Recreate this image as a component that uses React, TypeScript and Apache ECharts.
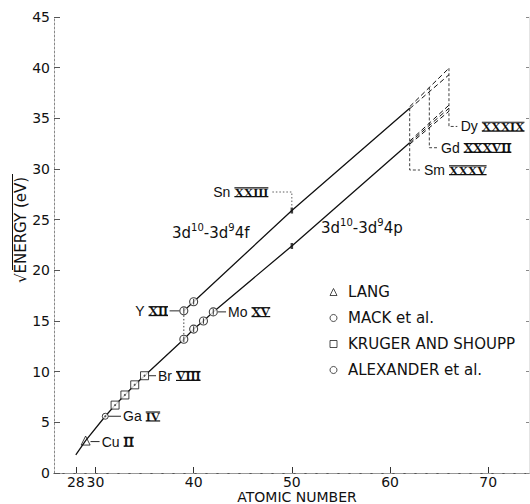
import React, { useEffect, useRef } from "react";
import * as echarts from "echarts";

// ---- data (atomic number Z, sqrt(energy) in sqrt(eV)) ----
const LOWER_4P_Z = [28, 29, 31, 32, 33, 34, 35, 39, 40, 41, 42, 50, 62];
const LOWER_4P_V = [1.8, 3.2, 5.6, 6.7, 7.7, 8.7, 9.6, 13.2, 14.2, 15.0, 15.9, 22.4, 32.6];
const UPPER_4F_Z = [39, 40, 50, 62];
const UPPER_4F_V = [16.0, 16.9, 25.9, 36.0];
// extrapolated (dashed) segments, Z 62 -> 66
const EXTRAP_Z = [62, 66];
const UPPER_EXT_A = [36.15, 39.95];
const UPPER_EXT_B = [35.95, 39.3];
const LOWER_EXT_C = [32.75, 36.3];
const LOWER_EXT_D = [32.6, 36.0];
const LOWER_EXT_E = [32.45, 35.7];
// measurements
const LANG_Z = [29];
const LANG_V = [3.2];
const MACK_Z = [31];
const MACK_V = [5.6];
const KRUGER_Z = [32, 33, 34, 35];
const KRUGER_V = [6.7, 7.7, 8.7, 9.6];
const ALEX_Z = [39, 40, 41, 42, 39, 40];
const ALEX_V = [13.2, 14.2, 15.0, 15.9, 16.0, 16.9];
const SN_Z = [50, 50];
const SN_V = [22.4, 25.9];
// axes
const X_TICKS = [28, 30, 40, 50, 60, 70];
const Y_MIN = 0;
const Y_MAX = 45;
const Y_STEP = 5;
const LEGEND_NAMES = ["LANG", "MACK et al.", "KRUGER AND SHOUPP", "ALEXANDER et al."];

const pairs = (zs: number[], vs: number[]) => zs.map((z, i) => [z, vs[i]]);

const INK = "#111";
const NAME_FONT = '14px "Liberation Sans"';
const NUM_FONT = 'bold 13px "Liberation Serif"';

const CIRCLE_BAR =
  "path://M0,-10 A10,10 0 1 1 0,10 A10,10 0 1 1 0,-10 Z M0,-7 L0,7";
const SQUARE_DOT =
  "path://M-10,-10 L10,-10 L10,10 L-10,10 Z M-1.5,0 A1.5,1.5 0 1 1 1.5,0 A1.5,1.5 0 1 1 -1.5,0 Z";
const CIRCLE_DOT =
  "path://M0,-10 A10,10 0 1 1 0,10 A10,10 0 1 1 0,-10 Z M-2,0 A2,2 0 1 1 2,0 A2,2 0 1 1 -2,0 Z";

// annotation placements (data coordinates)
const LABELS: any[] = [
  { name: "Cu", numeral: "II", at: [30.64, 3.1], leader: [[29.5, 3.1], [30.42, 3.1]] },
  { name: "Ga", numeral: "IV", at: [32.81, 5.6], leader: [[31.3, 5.6], [32.6, 5.6]] },
  { name: "Br", numeral: "VIII", at: [36.37, 9.6], leader: [[35.46, 9.6], [36.17, 9.6]] },
  { name: "Y", numeral: "XII", at: [37.39, 16.0], right: true, leader: [[37.55, 16.0], [38.56, 16.0]] },
  { name: "Mo", numeral: "XV", at: [43.5, 15.9], leader: [[42.48, 15.9], [43.3, 15.9]] },
  { name: "Sn", numeral: "XXIII", at: [42.0, 27.73], snLeader: [50, 26.35] },
  { name: "Sm", numeral: "XXXV", at: [63.46, 29.9], leader: [[62, 36.0], [62, 29.9], [63.05, 29.9]], dash: true },
  { name: "Gd", numeral: "XXXVII", at: [65.19, 32.1], leader: [[64, 38.05], [64, 32.1], [64.78, 32.1]], dash: true },
  { name: "Dy", numeral: "XXXIX", at: [67.2, 34.2], leader: [[66, 39.95], [66, 34.2], [66.85, 34.2]], dash: true },
];

const scatterBase = {
  type: "scatter",
  z: 4,
  itemStyle: { color: "#fff", borderColor: INK, borderWidth: 1 },
};

const lineBase = (data: number[][], dashed = false) => ({
  type: "line",
  data,
  symbol: "none",
  silent: true,
  z: 2,
  lineStyle: dashed
    ? { color: INK, width: 1, type: [5, 3] }
    : { color: INK, width: 1.3 },
});

export default function App() {
  const ref = useRef<HTMLDivElement>(null);
  useEffect(() => {
    const chart = echarts.init(ref.current!, null, { renderer: "svg" });
    const option: any = {
      animation: false,
      backgroundColor: "#fff",
      grid: { left: 54, right: 1, top: 17, bottom: 31 },
      xAxis: [
        {
          type: "value",
          min: 25.78,
          max: 74.15,
          position: "bottom",
          axisLine: { lineStyle: { color: "#555", width: 1 } },
          axisTick: { inside: true, length: 6, customValues: X_TICKS, lineStyle: { color: "#333" } },
          axisLabel: {
            customValues: X_TICKS,
            margin: 2,
            fontSize: 14,
            fontFamily: "DejaVu Sans",
            color: INK,
          },
          splitLine: { show: false },
        },
        {
          type: "value",
          min: 25.78,
          max: 74.15,
          position: "top",
          axisLine: { show: true, lineStyle: { color: "#999", width: 1, type: [8, 3] } },
          axisTick: { show: false },
          axisLabel: { show: false },
          splitLine: { show: false },
        },
      ],
      yAxis: [
        {
          type: "value",
          min: Y_MIN,
          max: Y_MAX,
          interval: Y_STEP,
          axisLine: { show: true, lineStyle: { color: "#888", width: 1, type: [2, 2] } },
          axisTick: { show: true, inside: true, length: 6, lineStyle: { color: "#555" } },
          axisLabel: { margin: 4, fontSize: 14, fontFamily: "DejaVu Sans", color: INK },
          splitLine: { show: false },
        },
        {
          type: "value",
          min: Y_MIN,
          max: Y_MAX,
          interval: Y_STEP,
          position: "right",
          axisLine: { show: true, lineStyle: { color: "#e4e4e4", width: 1 } },
          axisTick: { show: true, inside: true, length: 3, lineStyle: { color: "#888" } },
          axisLabel: { show: false },
          splitLine: { show: false },
        },
      ],
      legend: {
        data: [
          { name: LEGEND_NAMES[0], icon: "triangle" },
          { name: LEGEND_NAMES[1], icon: "circle" },
          { name: LEGEND_NAMES[2], icon: "rect" },
          { name: LEGEND_NAMES[3], icon: "circle" },
        ],
        orient: "vertical",
        left: 329.5,
        top: 284,
        padding: 0,
        itemWidth: 7,
        itemHeight: 7,
        itemGap: 10,
        selectedMode: false,
        itemStyle: { color: "#fff", borderColor: "#222", borderWidth: 1 },
        textStyle: {
          fontFamily: "DejaVu Sans",
          fontSize: 15,
          color: INK,
          lineHeight: 16,
          padding: [0, 0, 0, 6],
        },
      },
      series: [
        { name: "3d10-3d94p", ...lineBase(pairs(LOWER_4P_Z, LOWER_4P_V)) },
        { name: "3d10-3d94f", ...lineBase(pairs(UPPER_4F_Z, UPPER_4F_V)) },
        { name: "4f extrap. a", ...lineBase(pairs(EXTRAP_Z, UPPER_EXT_A), true) },
        { name: "4f extrap. b", ...lineBase(pairs(EXTRAP_Z, UPPER_EXT_B), true) },
        { name: "4p extrap. c", ...lineBase(pairs(EXTRAP_Z, LOWER_EXT_C), true) },
        { name: "4p extrap. d", ...lineBase(pairs(EXTRAP_Z, LOWER_EXT_D), true) },
        { name: "4p extrap. e", ...lineBase(pairs(EXTRAP_Z, LOWER_EXT_E), true) },
        {
          ...scatterBase,
          name: LEGEND_NAMES[0],
          data: pairs(LANG_Z, LANG_V),
          symbol: "triangle",
          symbolSize: 9,
          itemStyle: { color: "rgba(255,255,255,0)", borderColor: INK, borderWidth: 1 },
        },
        { ...scatterBase, name: LEGEND_NAMES[1], data: pairs(MACK_Z, MACK_V), symbol: CIRCLE_DOT, symbolSize: 6 },
        { ...scatterBase, name: LEGEND_NAMES[2], data: pairs(KRUGER_Z, KRUGER_V), symbol: SQUARE_DOT, symbolSize: 8 },
        {
          ...scatterBase,
          name: LEGEND_NAMES[3],
          data: pairs(ALEX_Z, ALEX_V),
          symbol: CIRCLE_BAR,
          symbolSize: 8,
          itemStyle: { color: "#fff", borderColor: INK, borderWidth: 1.1 },
        },
        {
          type: "scatter",
          name: "Sn XXIII",
          data: pairs(SN_Z, SN_V),
          symbol: "rect",
          symbolSize: [2.5, 6],
          z: 4,
          itemStyle: { color: INK },
        },
      ],
    };
    chart.setOption(option);

    const px = (p: number[]) => chart.convertToPixel({ xAxisIndex: 0, yAxisIndex: 0 }, p) as number[];
    const ctx = document.createElement("canvas").getContext("2d")!;
    const measure = (t: string, font: string) => {
      ctx.font = font;
      return ctx.measureText(t).width;
    };

    const els: any[] = [];
    const txt = (x: number, y: number, text: string, font: string, align = "left") => ({
      type: "text",
      x,
      y,
      silent: true,
      style: {
        text,
        font,
        fill: INK,
        textAlign: align,
        align,
        textVerticalAlign: "middle",
        verticalAlign: "middle",
      },
    });
    const seg = (x1: number, y1: number, x2: number, y2: number, width = 1, dash?: number[]) => ({
      type: "line",
      silent: true,
      shape: { x1, y1, x2, y2 },
      style: { stroke: INK, lineWidth: width, lineDash: dash },
    });

    LABELS.forEach((L) => {
      const [ax, ay] = px(L.at);
      const nw = measure(L.name, NAME_FONT);
      const gap = 4;
      const rw = measure(L.numeral, NUM_FONT);
      const total = nw + gap + rw;
      const left = L.right ? ax - total : ax;
      const numX = left + nw + gap;
      els.push(txt(left, ay, L.name, NAME_FONT));
      els.push(txt(numX, ay, L.numeral, NUM_FONT));
      els.push(seg(numX, ay - 4.2, numX + rw, ay - 4.2, 1.2));
      els.push(seg(numX, ay + 4.7, numX + rw, ay + 4.7, 1.2));
      if (L.leader) {
        const pts = L.leader.map((p: number[]) => px(p));
        els.push({
          type: "polyline",
          silent: true,
          shape: { points: pts },
          style: { stroke: INK, lineWidth: L.dash ? 0.8 : 0.9, lineDash: L.dash ? [3, 2] : undefined, fill: null },
        });
      }
      if (L.snLeader) {
        const [tx, ty] = px(L.snLeader);
        els.push({
          type: "polyline",
          silent: true,
          shape: { points: [[numX + rw + 4, ay], [tx, ay], [tx, ty]] },
          style: { stroke: "#333", lineWidth: 0.8, lineDash: [1.5, 2], fill: null },
        });
      }
    });

    // Y XII connector between the two transitions
    {
      const [x1, y1] = px([39, 15.55]);
      const [, y2] = px([39, 13.65]);
      els.push(seg(x1, y1, x1, y2, 0.8, [1.5, 2]));
    }

    // transition labels
    const rich = {
      n: { fontSize: 15, fontFamily: "DejaVu Sans", lineHeight: 20, fill: INK, color: INK },
      s: { fontSize: 10, fontFamily: "DejaVu Sans", lineHeight: 10, verticalAlign: "top", fill: INK, color: INK },
    };
    const trans = (at: number[], last: string) => {
      const [x, y] = px(at);
      return {
        type: "text",
        x,
        y,
        silent: true,
        style: {
          text: `{n|3d}{s|10}{n|-3d}{s|9}{n|4${last}}`,
          rich,
          fill: INK,
          textAlign: "left",
          align: "left",
          textVerticalAlign: "middle",
          verticalAlign: "middle",
        },
      };
    };
    els.push(trans([37.8, 23.7], "f"));
    els.push(trans([52.97, 24.2], "p"));

    // axis titles
    els.push(txt(297, 497, "ATOMIC NUMBER", '14px "DejaVu Sans"', "center"));
    els.push({
      type: "text",
      x: 21,
      y: 230,
      rotation: Math.PI / 2,
      silent: true,
      style: {
        text: "√ENERGY (eV)",
        font: '15px "DejaVu Sans"',
        fill: INK,
        textAlign: "center",
        align: "center",
        textVerticalAlign: "middle",
        verticalAlign: "middle",
      },
    });
    els.push(seg(12.5, 174, 12.5, 270, 1));

    chart.setOption({ graphic: els });
    return () => chart.dispose();
  }, []);
  return (
    <div
      ref={ref}
      style={{ position: "fixed", left: 0, top: 0, width: 530, height: 504, background: "#fff" }}
    />
  );
}
